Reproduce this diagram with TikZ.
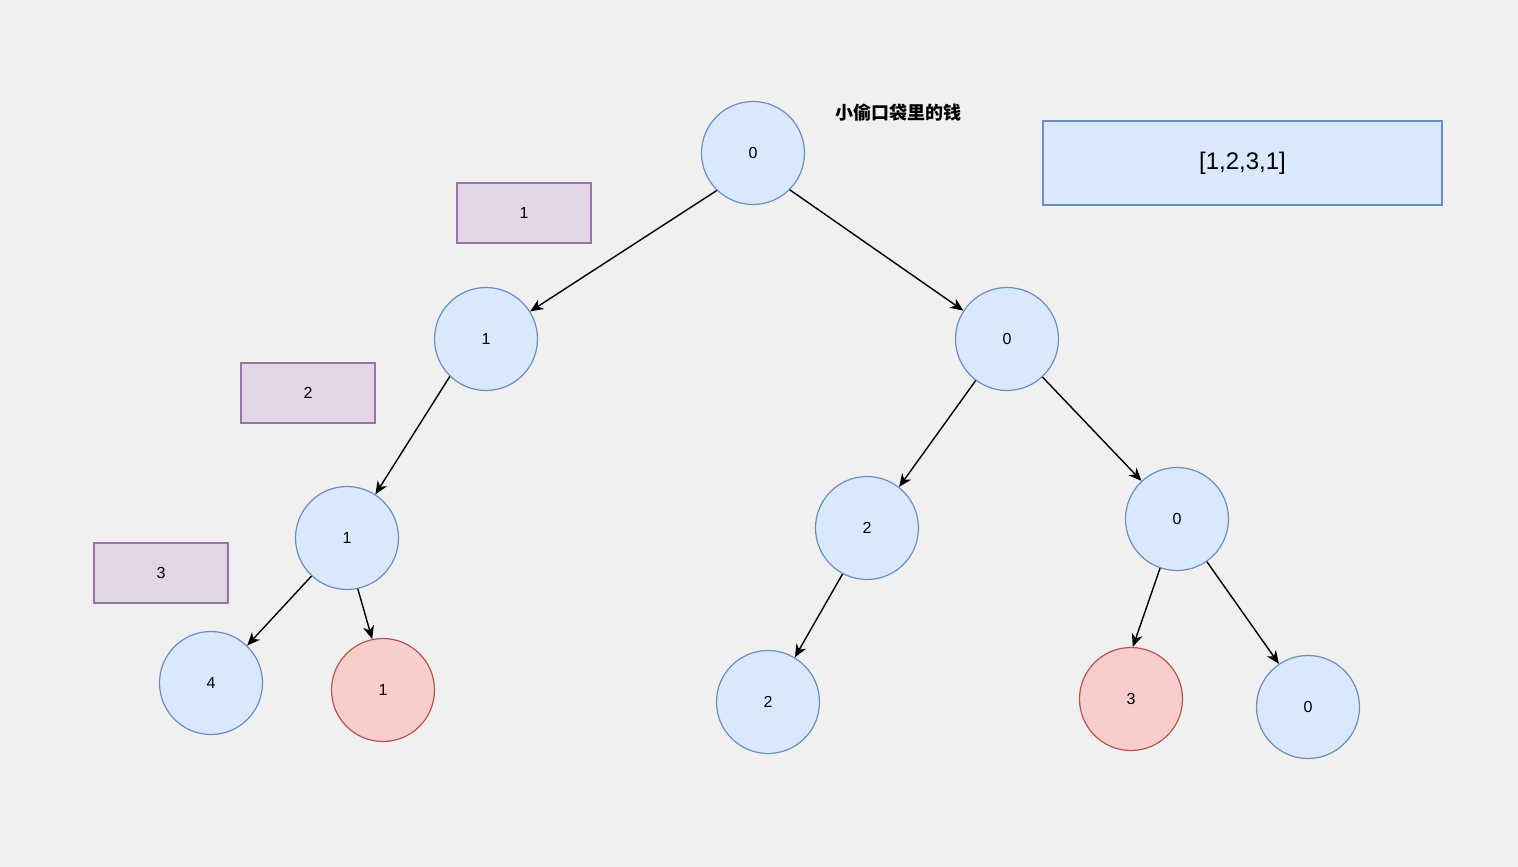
\documentclass[tikz,border=0pt]{standalone}
\usepackage{fontspec}
\setmainfont{Liberation Sans}
\newfontfamily\cjk{Noto Sans CJK SC}
\usetikzlibrary{arrows.meta}
\definecolor{bgc}{HTML}{F1F0F0}
\definecolor{bfill}{HTML}{DAE8FC}
\definecolor{bline}{HTML}{6C8EBF}
\definecolor{rfill}{HTML}{F8CECC}
\definecolor{rline}{HTML}{B85450}
\definecolor{pfill}{HTML}{E1D5E7}
\definecolor{pline}{HTML}{9673A6}
\tikzset{
  bnode/.style={circle, draw=bline, fill=bfill, line width=1.2pt, minimum size=103pt, inner sep=0pt, font=\fontsize{16}{18}\selectfont},
  rnode/.style={circle, draw=rline, fill=rfill, line width=1.2pt, minimum size=103pt, inner sep=0pt, font=\fontsize{16}{18}\selectfont},
  pbox/.style={rectangle, draw=pline, fill=pfill, line width=1.2pt, minimum width=134pt, minimum height=60pt, inner sep=0pt, font=\fontsize{16}{18}\selectfont},
  conn/.style={line width=1.4pt, -{Stealth[length=13pt,width=11pt,inset=4pt]}}
}
\begin{document}
\begin{tikzpicture}[x=1pt,y=-1pt]
\fill[bgc] (0,0) rectangle (1518,867);
\useasboundingbox (0,0) rectangle (1518,867);
\node[bnode] (root) at (753,153) {0};
\node[bnode] (l1) at (486,339) {1};
\node[bnode] (r1) at (1007,339) {0};
\node[bnode] (l2) at (347,538) {1};
\node[bnode] (rl) at (867,528) {2};
\node[bnode] (rr) at (1177,519) {0};
\node[bnode] (ll) at (211,683) {4};
\node[rnode] (lr) at (383,690) {1};
\node[bnode] (rll) at (768,702) {2};
\node[rnode] (rrl) at (1131,699) {3};
\node[bnode] (rrr) at (1308,707) {0};
\node[pbox] (p1) at (524,213) {1};
\node[pbox] (p2) at (308,393) {2};
\node[pbox] (p3) at (161,573) {3};
\node[rectangle, draw=bline, fill=bfill, line width=1.2pt, minimum width=399pt, minimum height=84pt, inner sep=0pt, font=\fontsize{24}{28}\selectfont] (arr) at (1242.5,163) {[1,2,3,1]};
\node[font=\cjk\bfseries\fontsize{18}{20}\selectfont] (title) at (898,113) {小偷口袋里的钱};
\draw[conn] (root.226) -- (l1.32);
\draw[conn] (root.315) -- (r1.147);
\draw[conn] (l1.226) -- (l2.57);
\draw[conn] (r1.233) -- (rl.52);
\draw[conn] (r1.313) -- (rr.133);
\draw[conn] (l2.227) -- (ll.46);
\draw[conn] (l2.282) -- (lr.102);
\draw[conn] (rl.242) -- (rll.59);
\draw[conn] (rr.251) -- (rrl.88);
\draw[conn] (rr.305) -- (rrr.124);
\end{tikzpicture}
\end{document}
